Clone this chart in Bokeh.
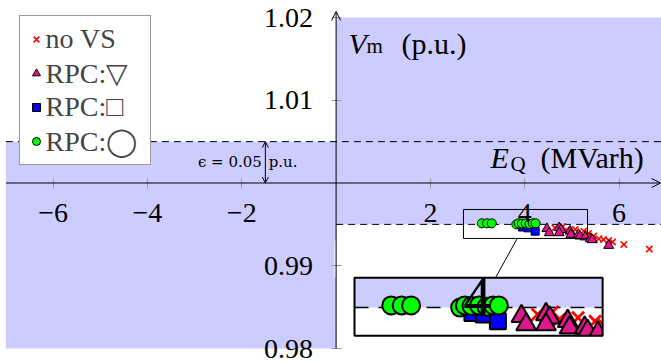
from bokeh.plotting import figure
from bokeh.models import (LinearAxis, FixedTicker, CustomJSTickFormatter, Range1d,
                          Legend, LegendItem, Arrow, OpenHead)
from bokeh.core.properties import value
from bokeh.embed import file_html
from bokeh.resources import INLINE

# ---------------- data ----------------
no_vs_x = [4.64, 4.80, 4.87, 5.07, 5.25, 5.35, 5.46, 5.57, 5.67, 5.78, 5.86, 6.10, 6.64]
no_vs_y = [0.99459, 0.99474, 0.99428, 0.99438, 0.99418, 0.99390, 0.99360, 0.99326,
           0.99317, 0.99305, 0.99287, 0.99257, 0.99202]

tri_x = [4.47, 4.52, 4.73, 4.77, 4.73, 4.96, 4.98, 5.14, 5.17, 5.28, 5.39, 5.43, 5.78]
tri_y = [0.99448, 0.99398, 0.99459, 0.99438, 0.99398, 0.99418, 0.99378, 0.99378,
         0.99358, 0.99347, 0.99326, 0.99314, 0.99245]

sq_x = [3.95, 4.07, 4.22]
sq_y = [0.99468, 0.99458, 0.99418]

circ_x = [3.09, 3.20, 3.30, 3.82, 3.87, 3.94, 4.02, 4.10, 4.17, 4.23]
circ_y = [0.99513, 0.99513, 0.99513, 0.99500, 0.99513, 0.99510, 0.99513, 0.99505,
          0.99513, 0.99513]

x_ticks = [-6, -4, -2, 2, 4, 6]
y_ticks = [0.98, 0.99, 1.01, 1.02]
legend_labels = ["no VS", "RPC:\u25bd", "RPC:\u25a1", "RPC:\u25ef"]

X_MIN, X_MAX = -7.0, 7.0
Y_MIN, Y_MAX = 0.98, 1.02
V_UP, V_LOW = 1.005, 0.995
EPS_X = -1.5
ZOOM_RECT = (2.7, 5.33, 0.9933, 0.9968)   # x0, x1, y0, y1 of zoomed region
MAG = 2.0

# ---------------- layout ----------------
W, H = 661, 362
PX_X0, SX = 335.6, 47.17      # canvas px of x=0 ; px per unit
PX_Y1, SY = 182.5, 8275.0     # canvas px of y=1 ; px per unit
BOX_L, BOX_T = 354.0, 277.3   # canvas position of inset box
SERIF = "Liberation Serif, Times New Roman, Tinos, serif"


def cx(px):  # canvas px -> main data x
    return (px - PX_X0) / SX


def cy(py):  # canvas px -> main data y
    return 1.0 - (py - PX_Y1) / SY


rx0, rx1, ry0, ry1 = ZOOM_RECT

p = figure(width=W, height=H, output_backend="svg", toolbar_location=None,
           x_axis_type=None, y_axis_type=None, min_border=0,
           x_range=Range1d(cx(0), cx(W)), y_range=Range1d(cy(H), cy(0)))
p.outline_line_color = None
p.grid.visible = False
p.background_fill_color = "white"

p.extra_x_ranges = {"inset": Range1d(rx0 + (0 - BOX_L) / (SX * MAG), rx0 + (W - BOX_L) / (SX * MAG))}
p.extra_y_ranges = {"inset": Range1d(ry1 - (H - BOX_T) / (SY * MAG), ry1 + BOX_T / (SY * MAG))}
INS = dict(x_range_name="inset", y_range_name="inset")

SHADE = "#ccccff"
serif = value(SERIF)

# shaded bands
p.quad(left=[X_MIN], right=[0], bottom=[Y_MIN], top=[V_UP], fill_color=SHADE, line_color=None)
p.quad(left=[0], right=[X_MAX], bottom=[V_LOW], top=[Y_MAX], fill_color=SHADE, line_color=None)
# dashed thresholds
p.segment(x0=[X_MIN], y0=[V_UP], x1=[X_MAX], y1=[V_UP], line_color="black", line_width=1, line_dash="7 5")
p.segment(x0=[0], y0=[V_LOW], x1=[X_MAX], y1=[V_LOW], line_color="black", line_width=1, line_dash="7 5")

# main markers
r_x = p.scatter(no_vs_x, no_vs_y, marker="x", size=9, line_color="red", line_width=1.6)
r_t = p.scatter(tri_x, tri_y, marker="triangle", size=10, fill_color="#e0188c", line_color="black", line_width=1)
r_s = p.scatter(sq_x, sq_y, marker="square", size=8, fill_color="#0000ff", line_color="black", line_width=1)
r_c = p.scatter(circ_x, circ_y, marker="circle", size=9, fill_color="#00ff00", line_color="black", line_width=1)

# zoom rectangle in main plot
p.quad(left=[rx0], right=[rx1], bottom=[ry0], top=[ry1], fill_color=None, line_color="black", line_width=1)

# ---------------- inset (magnified copy) ----------------
p.quad(left=[rx0], right=[rx1], bottom=[ry0], top=[ry1], fill_color="white", line_color=None, **INS)
p.quad(left=[rx0], right=[rx1], bottom=[V_LOW], top=[ry1], fill_color=SHADE, line_color=None, **INS)
p.segment(x0=[rx0], y0=[V_LOW], x1=[rx1], y1=[V_LOW], line_color="black", line_width=1.5, line_dash="14 10", **INS)


def inside(xs, ys):
    sel = [(a, b) for a, b in zip(xs, ys) if rx0 - 0.1 <= a <= rx1 + 0.05]
    return [a for a, _ in sel], [b for _, b in sel]


ix, iy = inside(no_vs_x, no_vs_y)
p.scatter(ix, iy, marker="x", size=17, line_color="red", line_width=2.8, **INS)
ix, iy = inside(tri_x, tri_y)
p.scatter(ix, iy, marker="triangle", size=20, fill_color="#e0188c", line_color="black", line_width=2, **INS)
ix, iy = inside(sq_x, sq_y)
p.scatter(ix, iy, marker="square", size=16, fill_color="#0000ff", line_color="black", line_width=2, **INS)
ix, iy = inside(circ_x, circ_y)
p.scatter(ix, iy, marker="circle", size=18, fill_color="#00ff00", line_color="black", line_width=2, **INS)

# magnified piece of the "4" tick label
p.text(x=[4], y=[cy(218.5)], text=["4"], text_font=serif, text_font_size="56px",
       text_align="center", text_baseline="alphabetic", text_color="black", **INS)


# white masks to clip the inset content at the box edges
def iy_of(py):
    return ry1 - (py - BOX_T) / (SY * MAG)


def ix_of(px):
    return rx0 + (px - BOX_L) / (SX * MAG)


BOX_R = BOX_L + (rx1 - rx0) * SX * MAG
BOX_B = BOX_T + (ry1 - ry0) * SY * MAG
p.quad(left=[ix_of(BOX_L - 20)], right=[ix_of(BOX_L + 160)], bottom=[iy_of(BOX_T - 0.5)], top=[iy_of(240)],
       fill_color="white", line_color=None, **INS)
p.quad(left=[ix_of(BOX_R + 0.5)], right=[ix_of(BOX_R + 25)], bottom=[iy_of(BOX_B + 15)], top=[iy_of(BOX_T - 5)],
       fill_color="white", line_color=None, **INS)
p.quad(left=[ix_of(BOX_L - 8)], right=[ix_of(BOX_R + 25)], bottom=[iy_of(BOX_B + 15)], top=[iy_of(BOX_B + 0.5)],
       fill_color="white", line_color=None, **INS)
p.quad(left=[rx0], right=[rx1], bottom=[ry0], top=[ry1], fill_color=None, line_color="black", line_width=2, **INS)
# connector
p.segment(x0=[3.84], y0=[ry0], x1=[cx(495)], y1=[cy(BOX_T)], line_color="black", line_width=1)

# ---------------- axes ----------------
xaxis = LinearAxis(fixed_location=1.0, ticker=FixedTicker(ticks=x_ticks, minor_ticks=[]),
                   formatter=CustomJSTickFormatter(code="return tick < 0 ? '\u2212' + Math.abs(tick) : String(tick);"),
                   axis_line_color=None, major_tick_in=5, major_tick_out=5,
                   major_tick_line_color="#9a9a9a", minor_tick_line_color=None,
                   major_label_text_font=SERIF, major_label_text_font_size="28px",
                   major_label_standoff=16, major_label_text_color="black")
yaxis = LinearAxis(fixed_location=0.0, ticker=FixedTicker(ticks=y_ticks, minor_ticks=[]),
                   formatter=CustomJSTickFormatter(code="return tick.toFixed(2);"),
                   axis_line_color=None, major_tick_in=5, major_tick_out=5,
                   major_tick_line_color="#9a9a9a", minor_tick_line_color=None,
                   major_label_text_font=SERIF, major_label_text_font_size="28px",
                   major_label_standoff=18, major_label_text_color="black")
p.add_layout(xaxis, "below")
p.add_layout(yaxis, "left")

p.add_layout(Arrow(end=OpenHead(size=9, line_width=1), x_start=X_MIN, y_start=1.0,
                   x_end=cx(660), y_end=1.0, line_width=1))
p.add_layout(Arrow(end=OpenHead(size=9, line_width=1), x_start=0, y_start=Y_MIN,
                   x_end=0, y_end=cy(11), line_width=1))
# epsilon double arrow
p.add_layout(Arrow(start=OpenHead(size=6, line_width=1), end=OpenHead(size=6, line_width=1),
                   x_start=EPS_X, y_start=1.0, x_end=EPS_X, y_end=V_UP, line_width=1))
eps_font = value("DejaVu Serif")
p.text(x=[EPS_X - 0.075], y=[cy(161.7)], text=["\u03f5 = 0.05"], text_font=eps_font,
       text_font_size="15px", text_align="right", text_baseline="middle")
p.text(x=[EPS_X + 0.07], y=[cy(161.7)], text=["p.u."], text_font=eps_font,
       text_font_size="15px", text_align="left", text_baseline="middle")

# axis labels
p.text(x=[cx(348)], y=[cy(42.7)], text=["V"], text_font=serif, text_font_style="italic",
       text_font_size="30px", text_baseline="alphabetic")
p.text(x=[cx(366)], y=[cy(45.5)], text=["m"], text_font=serif,
       text_font_size="21px", text_baseline="alphabetic")
p.text(x=[cx(401)], y=[cy(42.7)], text=["(p.u.)"], text_font=serif,
       text_font_size="30px", text_baseline="alphabetic")
p.text(x=[cx(490)], y=[cy(157)], text=["E"], text_font=serif, text_font_style="italic",
       text_font_size="30px", text_baseline="alphabetic")
p.text(x=[cx(510)], y=[cy(163)], text=["Q"], text_font=serif,
       text_font_size="21px", text_baseline="alphabetic")
p.text(x=[cx(540)], y=[cy(157)], text=["(MVarh)"], text_font=serif,
       text_font_size="30px", text_baseline="alphabetic")

# legend
legend = Legend(items=[LegendItem(label=lab, renderers=[r]) for lab, r in
                       zip(legend_labels, [r_x, r_t, r_s, r_c])],
                location=(18.5, H - 165), margin=0, padding=6, spacing=0,
                glyph_width=20, glyph_height=34, label_height=34, label_standoff=0,
                label_width=98,
                label_text_font=SERIF, label_text_font_size="28px",
                border_line_color="#333333", border_line_width=1,
                background_fill_color="white", background_fill_alpha=1.0)
p.add_layout(legend, "center")

open("out.html", "w").write(file_html(p, INLINE))
